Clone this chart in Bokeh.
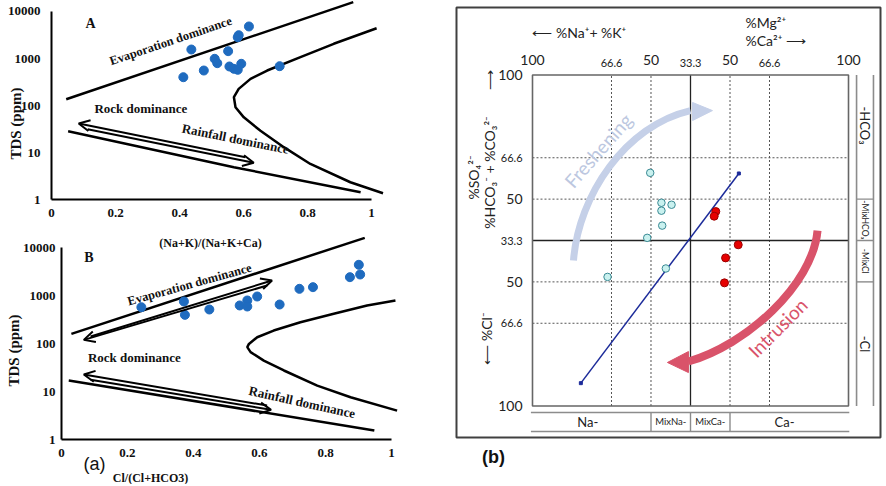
import math
from bokeh.plotting import figure
from bokeh.layouts import row, column
from bokeh.models import Range1d, Arrow, OpenHead
from bokeh.core.properties import value
from bokeh.embed import file_html
from bokeh.resources import INLINE

# ---------------- Gibbs panel A data ----------------
a_ratio = [0.412, 0.437, 0.476, 0.510, 0.518, 0.552, 0.556, 0.570, 0.582, 0.593, 0.582, 0.585, 0.617, 0.713]
a_tds = [400, 1553, 555, 985, 795, 1432, 676, 603, 575, 771, 2840, 3130, 4800, 686]
a_upper_x = [0.046, 0.943]
a_upper_y = [136, 15800]
a_curve_x = [1.016, 0.882, 0.778, 0.674, 0.622, 0.585, 0.570, 0.575, 0.601, 0.653, 0.726, 0.809, 0.934, 1.036]
a_curve_y = [4410, 2055, 1066, 555, 369, 226, 150, 92, 56, 29, 13, 5.7, 2.33, 1.36]
a_lower_x = [0.052, 0.57, 0.966]
a_lower_y = [28.4, 4.87, 1.43]

# ---------------- Gibbs panel B data ----------------
b_ratio = [0.242, 0.371, 0.374, 0.448, 0.540, 0.563, 0.563, 0.593, 0.661, 0.721, 0.762, 0.874, 0.901, 0.905]
b_tds = [570, 750, 395, 511, 620, 787, 590, 953, 649, 1378, 1492, 2410, 4360, 2740]
b_upper_x = [0.030, 0.919]
b_upper_y = [159, 15900]
b_curve_x = [1.012, 0.926, 0.825, 0.724, 0.643, 0.593, 0.568, 0.563, 0.573, 0.613, 0.674, 0.775, 0.876, 1.017]
b_curve_y = [787, 620, 415, 278, 186, 135, 98, 84, 66, 44, 27.4, 13.3, 7.6, 4.0]
b_lower_x = [0.022, 0.948]
b_lower_y = [17, 1.54]

gibbs_x_ticks = [0, 0.2, 0.4, 0.6, 0.8, 1]
gibbs_x_labels = ["0", "0.2", "0.4", "0.6", "0.8", "1"]
gibbs_y_ticks = [1, 10, 100, 1000, 10000]
gibbs_y_labels = ["1", "10", "100", "1000", "10000"]

# ---------------- Chadha diagram data ----------------
cyan_x = [-25.5, -18.4, -12.0, -18.4, -17.9, -27.4, -52.5, -15.6]
cyan_y = [40.9, 22.8, 21.6, 18.0, 9.0, 1.6, -22.0, -16.9]
red_x = [16.0, 15.0, 30.2, 22.2, 21.5]
red_y = [17.5, 14.7, -2.6, -10.5, -25.6]
trend_x = [-69.4, 30.6]
trend_y = [-86.2, 40.5]

chadha_ticks = [-100, -50, -25, 0, 25, 50, 100]
chadha_top_labels = ["100", "66.6", "50", "33.3", "50", "66.6", "100"]
chadha_left_ticks = [100, 50, 25, 0, -25, -50, -100]
chadha_left_labels = ["100", "66.6", "50", "33.3", "50", "66.6", "100"]
bottom_classes = ["Na-", "MixNa-", "MixCa-", "Ca-"]
bottom_edges = [-100, -25, 0, 25, 100]
side_classes = ["-HCO\u2083", "-MixHCO\u2083", "-MixCl", "-Cl"]
side_edges = [100, 25, 0, -25, -100]

SERIF = value("Liberation Serif")
SANS = value("Lato")
BLUE = "#1f6bbf"
INK = "#111111"
GREY = "#222222"


def gibbs_fig(width, height, xr, yr):
    p = figure(width=width, height=height, x_range=Range1d(*xr), y_range=Range1d(*yr),
               y_axis_type="log", output_backend="svg", toolbar_location=None,
               x_axis_location=None, y_axis_location=None,
               min_border_left=0, min_border_right=0, min_border_top=0, min_border_bottom=0)
    p.outline_line_color = None
    p.grid.visible = False
    p.background_fill_color = "white"
    p.border_fill_color = "white"
    return p


def gtext(p, xs, ys, ts, size, angle=0.0, align="center", font=SERIF, style="bold"):
    p.text(x=xs, y=ys, text=ts, angle=angle, text_font=font, text_font_style=style,
           text_font_size=size, text_align=align, text_baseline="middle", text_color=INK)


def gibbs_axes(p, ylab_x, xlab_y):
    x0, x1 = gibbs_x_ticks[0], gibbs_x_ticks[-1]
    y0, y1 = gibbs_y_ticks[0], gibbs_y_ticks[-1]
    p.segment(x0=[x0, x0], y0=[y0, y0], x1=[x0, x1], y1=[y1, y0], line_color="black", line_width=2)
    gtext(p, [ylab_x] * len(gibbs_y_ticks), gibbs_y_ticks, gibbs_y_labels, "13px", align="right")
    gtext(p, gibbs_x_ticks, [xlab_y] * len(gibbs_x_ticks), gibbs_x_labels, "13px")


def boundaries(p, ux, uy, cx, cy, lx, ly):
    for xs, ys in ((ux, uy), (cx, cy), (lx, ly)):
        p.line(xs, ys, line_color="black", line_width=2.5)


def one_arrow(p, xs, ys):
    p.add_layout(Arrow(end=OpenHead(size=11, line_width=2, line_color="black"),
                       x_start=xs[0], y_start=ys[0], x_end=xs[1], y_end=ys[1],
                       line_width=2, line_color="black"))


# ---------------- Panel A ----------------
pa = gibbs_fig(448, 236, (-0.159375, 1.240625), (10 ** -0.787, 10 ** 4.234))
gibbs_axes(pa, -0.0344, 0.504)
boundaries(pa, a_upper_x, a_upper_y, a_curve_x, a_curve_y, a_lower_x, a_lower_y)
one_arrow(pa, [0.606, 0.085], [7.94, 41.4])
one_arrow(pa, [0.113, 0.632], [31.3, 6.03])
pa.scatter(a_ratio, a_tds, size=9, fill_color=BLUE, line_color=BLUE)
gtext(pa, [0.122], [5560], ["A"], "14px")
gtext(pa, [0.377], [2415], ["Evaporation  dominance"], "12.5px", angle=0.326)
gtext(pa, [0.134], [85], ["Rock dominance"], "13px", align="left")
gtext(pa, [0.575], [19.6], ["Rainfall dominance"], "13px", angle=-0.2)
gtext(pa, [-0.1125], [41.4], ["TDS (ppm)"], "15px", angle=math.pi / 2)

# ---------------- Panel B ----------------
pb = gibbs_fig(448, 248, (-0.184848, 1.172727), (10 ** -0.9375, 10 ** 4.2292))
gibbs_axes(pb, -0.018, 0.511)
boundaries(pb, b_upper_x, b_upper_y, b_curve_x, b_curve_y, b_lower_x, b_lower_y)
one_arrow(pb, [0.088, 0.638], [140, 2054])
one_arrow(pb, [0.623, 0.0676], [1615, 119])
one_arrow(pb, [0.623, 0.0676], [5.1, 22.6])
one_arrow(pb, [0.088, 0.635], [17.5, 4.15])
pb.scatter(b_ratio, b_tds, size=9, fill_color=BLUE, line_color=BLUE)
gtext(pb, [0.083], [6300], ["B"], "14px")
gtext(pb, [0.388], [1694], ["Evaporation dominance"], "12.5px", angle=0.27)
gtext(pb, [0.08], [52], ["Rock dominance"], "13px", align="left")
gtext(pb, [0.729], [6.0], ["Rainfall dominance"], "13px", angle=-0.218)
gtext(pb, [0.4515], [12700], ["(Na+K)/(Na+K+Ca)"], "12px")
gtext(pb, [-0.144], [71.5], ["TDS (ppm)"], "15px", angle=math.pi / 2)
gtext(pb, [0.27], [0.154], ["Cl/(Cl+HCO3)"], "12px")
gtext(pb, [0.1], [0.316], ["(a)"], "18px", font=value("Liberation Sans"), style="normal")

# ---------------- Panel (b): Chadha diagram ----------------
pc = figure(width=436, height=484, x_range=Range1d(-153.16, 122.78), y_range=Range1d(-147.43, 145.02),
            output_backend="svg", toolbar_location=None, x_axis_location=None, y_axis_location=None,
            min_border_left=0, min_border_right=0, min_border_top=0, min_border_bottom=0)
pc.grid.visible = False
pc.outline_line_color = None
pc.background_fill_color = "white"
pc.border_fill_color = "white"

# outer frame of panel (b)
pc.quad(left=[-148.1], right=[120.25], bottom=[-119.0], top=[140.8], fill_color=None,
        line_color="#404040", line_width=2)

lo, hi = chadha_ticks[0], chadha_ticks[-1]
dotted = [t for t in chadha_ticks if t not in (lo, hi, 0)]
pc.segment(x0=dotted, y0=[lo] * len(dotted), x1=dotted, y1=[hi] * len(dotted),
           line_color="#555555", line_width=1, line_dash="2 2")
pc.segment(x0=[lo] * len(dotted), y0=dotted, x1=[hi] * len(dotted), y1=dotted,
           line_color="#555555", line_width=1, line_dash="2 2")
pc.segment(x0=[0, lo], y0=[lo, 0], x1=[0, hi], y1=[hi, 0], line_color="#222222", line_width=1.3)
pc.quad(left=[lo], right=[hi], bottom=[lo], top=[hi], fill_color=None, line_color="#666666",
        line_width=1.6)

# bottom class bar
bar_y0, bar_y1 = -103.9, -115.4
pc.segment(x0=[lo - 1, lo - 1], y0=[bar_y0, bar_y1], x1=[hi + 0.5, hi + 0.5], y1=[bar_y0, bar_y1],
           line_color="#8c8c8c", line_width=1.6)
inner = bottom_edges[1:-1]
pc.segment(x0=inner, y0=[bar_y0] * 3, x1=inner, y1=[bar_y1] * 3, line_color="#8c8c8c", line_width=1.4)
mids = [(bottom_edges[i] + bottom_edges[i + 1]) / 2 for i in range(4)]
bar_mid = (bar_y0 + bar_y1) / 2
pc.text(x=[mids[0] - 2.5, mids[3] - 3], y=[bar_mid] * 2, text=[bottom_classes[0], bottom_classes[3]],
        text_font=SANS, text_font_size="13px", text_align="center", text_baseline="middle",
        text_color=GREY)
pc.text(x=[mids[1], mids[2]], y=[bar_mid] * 2, text=[bottom_classes[1], bottom_classes[2]],
        text_font=SANS, text_font_size="9.5px", text_align="center", text_baseline="middle",
        text_color=GREY)

# right class bar
side_x0, side_x1 = 105.1, 115.8
pc.segment(x0=[side_x0, side_x1], y0=[lo, lo], x1=[side_x0, side_x1], y1=[hi, hi],
           line_color="#8c8c8c", line_width=1.6)
sinner = side_edges[1:-1]
pc.segment(x0=[side_x0] * 3, y0=sinner, x1=[side_x1] * 3, y1=sinner, line_color="#8c8c8c", line_width=1.4)
smids = [(side_edges[i] + side_edges[i + 1]) / 2 for i in range(4)]
sx = (side_x0 + side_x1) / 2
pc.text(x=[sx, sx], y=[smids[0] + 7, smids[3]], text=[side_classes[0], side_classes[3]], angle=-math.pi / 2,
        text_font=SANS, text_font_size="13px", text_align="center", text_baseline="middle",
        text_color=GREY)
pc.text(x=[sx, sx], y=[smids[1], smids[2]], text=[side_classes[1], side_classes[2]], angle=-math.pi / 2,
        text_font=SANS, text_font_size="8.5px", text_align="center", text_baseline="middle",
        text_color=GREY)

# tick labels
big = [i for i, l in enumerate(chadha_top_labels) if l in ("100", "50")]
small = [i for i, l in enumerate(chadha_top_labels) if l not in ("100", "50")]
pc.text(x=[chadha_ticks[i] for i in big], y=[108.8] * len(big), text=[chadha_top_labels[i] for i in big],
        text_font=SANS, text_font_size="14px", text_align="center", text_baseline="middle",
        text_color=GREY)
pc.text(x=[chadha_ticks[i] for i in small], y=[107.0] * len(small), text=[chadha_top_labels[i] for i in small],
        text_font=SANS, text_font_size="11px", text_align="center", text_baseline="middle",
        text_color=GREY)
pc.text(x=[-106.3] * len(big), y=[chadha_left_ticks[i] for i in big], text=[chadha_left_labels[i] for i in big],
        text_font=SANS, text_font_size="14px", text_align="right", text_baseline="middle",
        text_color=GREY)
pc.text(x=[-106.3] * len(small), y=[chadha_left_ticks[i] for i in small],
        text=[chadha_left_labels[i] for i in small],
        text_font=SANS, text_font_size="11px", text_align="right", text_baseline="middle",
        text_color=GREY)

# axis titles
pc.text(x=[-100], y=[125.7], text=["\u27f5 %Na\u207a+ %K\u207a"], text_font=SANS, text_font_size="14px",
        text_align="left", text_baseline="middle", text_color=GREY)
pc.text(x=[34.8, 34.8], y=[131.7, 120.8], text=["%Mg\u00b2\u207a", "%Ca\u00b2\u207a \u27f6"], text_font=SANS,
        text_font_size="14px", text_align="left", text_baseline="middle", text_color=GREY)
pc.text(x=[-137.3], y=[38.1], text=["%SO\u2084\u00b2\u207b"], angle=math.pi / 2, text_font=SANS,
        text_font_size="14px", text_align="center", text_baseline="middle", text_color=GREY)
pc.text(x=[-127.2], y=[41.1], text=["%HCO\u2083\u207b + %CO\u2083\u00b2\u207b"], angle=math.pi / 2,
        text_font=SANS, text_font_size="14px", text_align="center", text_baseline="middle",
        text_color=GREY)
pc.text(x=[-127.2], y=[96.7], text=["\u27f6"], angle=math.pi / 2, text_font=SANS,
        text_font_size="14px", text_align="center", text_baseline="middle", text_color=GREY)
pc.text(x=[-129.1], y=[-59.2], text=["\u27f5 %Cl\u207b"], angle=math.pi / 2, text_font=SANS,
        text_font_size="14px", text_align="center", text_baseline="middle", text_color=GREY)

# freshening / intrusion arrows
FRESH = "#c5d0e8"
pc.bezier(x0=[-74.05], y0=[-12.1], cx0=[-70.9], cy0=[27.2], cx1=[-41.1], cy1=[69.5], x1=[0.0], y1=[78.5],
          line_color=FRESH, line_width=7)
pc.patch([1.3, 13.9, 1.3], [83.4, 78.5, 72.5], fill_color=FRESH, line_color=FRESH)
pc.text(x=[-58.5], y=[54.5], text=["Freshening"], angle=0.85, text_font=SANS, text_font_size="19px",
        text_align="center", text_baseline="middle", text_color="#bcc7e0")
INTR = "#d9536a"
pc.bezier(x0=[80.4], y0=[6.04], cx0=[77.2], cy0=[-27.2], cx1=[34.8], cy1=[-63.4], x1=[-1.3], y1=[-73.1],
          line_color=INTR, line_width=8)
pc.patch([-1.3, -14.6, -1.3], [-67.1, -73.7, -79.8], fill_color=INTR, line_color=INTR)
pc.text(x=[55.1], y=[-52.6], text=["Intrusion"], angle=0.785, text_font=SANS, text_font_size="19px",
        text_align="center", text_baseline="middle", text_color=INTR)

# trend line and samples
pc.line(trend_x, trend_y, line_color="#1c2b9a", line_width=1.5)
pc.scatter(trend_x, trend_y, marker="square", size=3, color="#1c2b9a")
pc.scatter(cyan_x, cyan_y, size=7.5, fill_color="#c9f1ef", line_color="#3a8a94", line_width=1)
pc.scatter(red_x, red_y, size=8, fill_color="#e60000", line_color="#9a0000", line_width=1)

pc.text(x=[-124.7], y=[-131.1], text=["(b)"], text_font=value("Liberation Sans"), text_font_style="bold",
        text_font_size="18px", text_align="center", text_baseline="middle", text_color=INK)

layout = row(column(pa, pb, spacing=0), pc, spacing=0)
open("out.html", "w").write(file_html(layout, INLINE))
